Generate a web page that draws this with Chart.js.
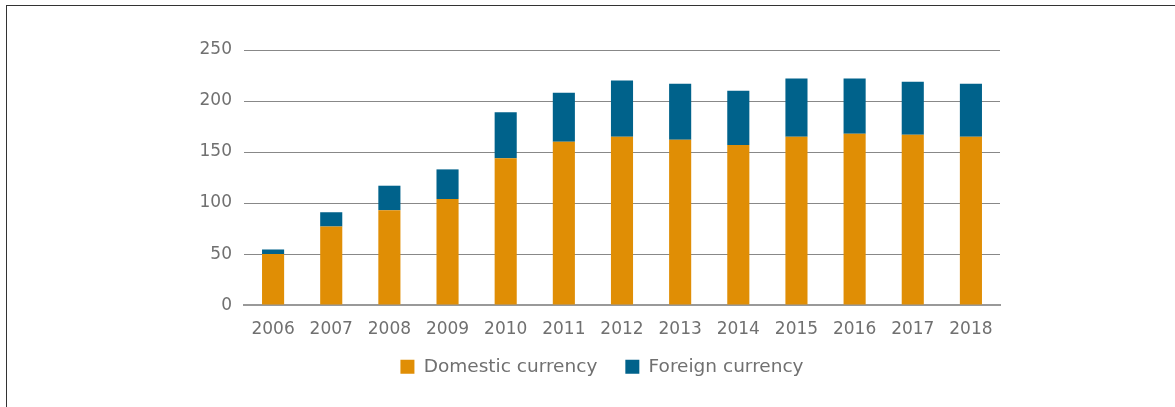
<!DOCTYPE html>
<html>
<head>
<meta charset="utf-8">
<script src="https://cdn.jsdelivr.net/npm/chart.js@4"></script>
<style>
  html, body { margin: 0; padding: 0; background: #fff; }
  #wrap { position: relative; width: 1175px; height: 407px; }
  #frame {
    position: absolute; left: 6px; top: 5px; right: 0; bottom: 0;
    border-top: 1px solid #333; border-left: 1px solid #333;
    pointer-events: none;
  }
</style>
</head>
<body>
<div id="wrap">
  <canvas id="chart" width="1175" height="407"></canvas>
  <div id="frame"></div>
</div>
<script>
const years = ["2006", "2007", "2008", "2009", "2010", "2011", "2012", "2013", "2014", "2015", "2016", "2017", "2018"];
const domestic = [50, 77, 93, 104, 144, 160, 165, 162, 157, 165, 168, 167, 165];
const foreign = [4.5, 14, 24, 29, 45, 48, 55, 55, 53, 57, 54, 52, 52];
const yTicks = [0, 50, 100, 150, 200, 250];

const textColor = "#707070";
const tickFont = { family: "DejaVu Sans", size: 17 };
const legendFont = { family: "DejaVu Sans", size: 18.5 };

// the legend sits a bit higher and more to the right than Chart.js puts it
const legendShift = {
  id: "legendShift",
  afterInit(chart) {
    const legend = chart.legend;
    const origDraw = legend.draw.bind(legend);
    legend.draw = function () {
      const c = chart.ctx;
      c.save();
      c.translate(102, -16);
      origDraw();
      c.restore();
    };
  },
};

const ctx = document.getElementById("chart").getContext("2d");
new Chart(ctx, {
  type: "bar",
  data: {
    labels: years,
    datasets: [
      {
        label: "Domestic currency",
        data: domestic,
        backgroundColor: "#E08E05",
        barPercentage: 0.38,
        categoryPercentage: 1,
      },
      {
        label: "Foreign currency",
        data: foreign,
        backgroundColor: "#00628B",
        barPercentage: 0.38,
        categoryPercentage: 1,
      },
    ],
  },
  options: {
    responsive: false,
    animation: false,
    layout: { padding: { left: 0, right: 175, top: 50, bottom: 5 } },
    scales: {
      x: {
        stacked: true,
        grid: { display: false },
        border: { color: "#999", width: 2 },
        ticks: { color: textColor, font: tickFont, padding: 6 },
      },
      y: {
        stacked: true,
        min: 0,
        max: 250,
        afterBuildTicks: (scale) => {
          scale.ticks = yTicks.map((v) => ({ value: v }));
        },
        afterFit: (scale) => {
          scale.width = 244;
        },
        border: { display: false },
        grid: {
          color: (c) => (c.tick && c.tick.value === 0 ? "transparent" : "#888"),
          lineWidth: 1,
          drawTicks: false,
        },
        ticks: { color: textColor, font: tickFont, padding: 12 },
      },
    },
    plugins: {
      legend: {
        position: "bottom",
        labels: {
          color: textColor,
          font: legendFont,
          boxWidth: 14,
          boxHeight: 14,
          padding: 28,
        },
      },
      tooltip: { enabled: false },
    },
  },
  plugins: [legendShift],
});
</script>
</body>
</html>
